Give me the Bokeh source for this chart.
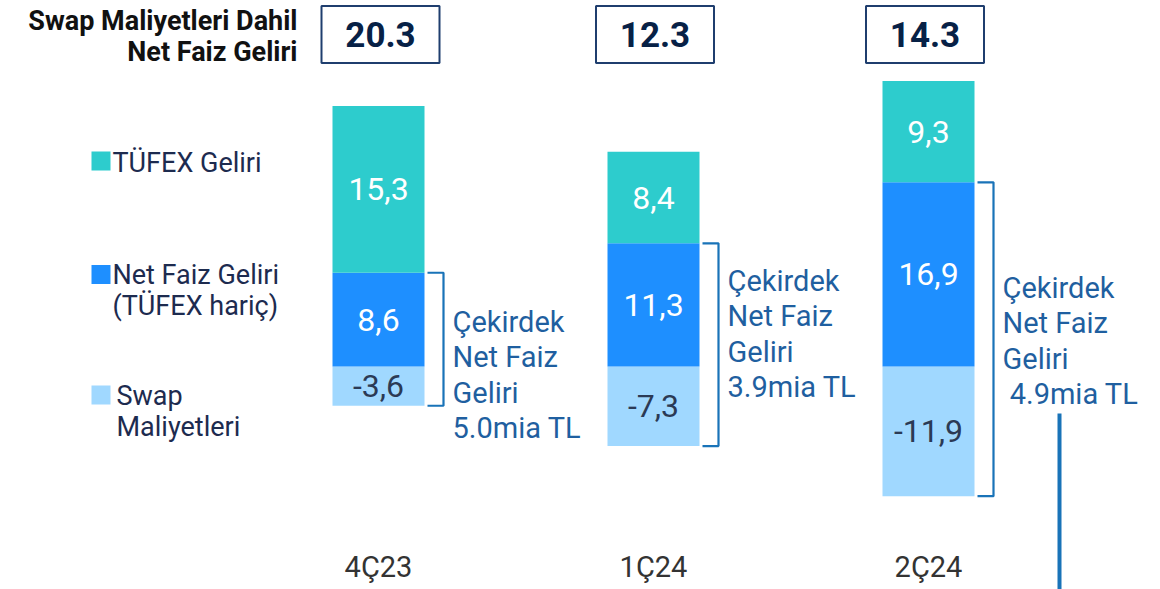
from bokeh.plotting import figure
from bokeh.models import Range1d
from bokeh.core.properties import value
from bokeh.embed import file_html
from bokeh.resources import INLINE

# ---------------- data ----------------
quarters = ["4Ç23", "1Ç24", "2Ç24"]
tufex = [15.3, 8.4, 9.3]
nii_ex_tufex = [8.6, 11.3, 16.9]
swap_costs = [-3.6, -7.3, -11.9]
totals = ["20.3", "12.3", "14.3"]
core_nii = ["5.0mia TL", "3.9mia TL", "\u00a04.9mia TL"]
core_label = ["Çekirdek", "Net Faiz", "Geliri"]
legend_tufex = ["TÜFEX Geliri"]
legend_nii = ["Net Faiz Geliri", "(TÜFEX hariç)"]
legend_swap = ["Swap", "Maliyetleri"]
title_lines = ["Swap Maliyetleri Dahil", "Net Faiz Geliri"]

# ---------------- style ----------------
C_TUFEX = "#2DCCCD"
C_NII = "#1E8FFF"
C_SWAP = "#A0D8FF"
C_BRACKET = "#1973B8"
C_BRTEXT = "#1F5FA0"
C_NAVY = "#072146"
C_LEG = "#1D2B4F"
C_CAT = "#333333"
FONT = value("Roboto")

W, H = 1160, 589
OFF = 0             # page offset of the figure
PXU = 10.9          # pixels per unit
ZERO = 366          # screen y of zero
STEP = 275          # pixels between categories
XC0 = 378           # screen x of first category

ystart = -(H + OFF - ZERO) / PXU
yend = (ZERO - OFF) / PXU
xstart = -(XC0 - OFF) / STEP
xend = xstart + W / STEP


def vy(py):
    return (ZERO - py) / PXU


def vx(px):
    return (px - XC0) / STEP


xs = list(range(len(quarters)))
BW = 92 / STEP

p = figure(width=W, height=H, output_backend="svg", toolbar_location=None,
           x_range=Range1d(xstart, xend), y_range=Range1d(ystart, yend),
           min_border=0)
p.axis.visible = False
p.grid.visible = False
p.outline_line_color = None
p.background_fill_color = "white"

# bars
p.vbar(x=xs, bottom=0, top=swap_costs, width=BW, color=C_SWAP, line_color=None)
p.vbar(x=xs, bottom=0, top=nii_ex_tufex, width=BW, color=C_NII, line_color=None)
p.vbar(x=xs, bottom=nii_ex_tufex,
       top=[n + t for n, t in zip(nii_ex_tufex, tufex)],
       width=BW, color=C_TUFEX, line_color=None)


def tr(v):
    return f"{v:.1f}".replace(".", ",")


LBL = "32px"
# bar labels
p.text(x=xs, y=[n + t / 2 for n, t in zip(nii_ex_tufex, tufex)],
       text=[tr(t) for t in tufex], text_color="white", text_font=FONT,
       text_font_size=LBL, text_align="center", text_baseline="middle")
p.text(x=xs, y=[n / 2 for n in nii_ex_tufex],
       text=[tr(n) for n in nii_ex_tufex], text_color="white", text_font=FONT,
       text_font_size=LBL, text_align="center", text_baseline="middle")
p.text(x=xs, y=[s / 2 for s in swap_costs],
       text=[tr(s) for s in swap_costs], text_color="#2B3A55", text_font=FONT,
       text_font_size=LBL, text_align="center", text_baseline="middle")

# brackets
bxs, bys = [], []
for i, n, s in zip(xs, nii_ex_tufex, swap_costs):
    x0 = i + BW / 2 + 3 / STEP
    x1 = i + BW / 2 + 19 / STEP
    bxs.append([x0, x1, x1, x0])
    bys.append([n, n, s, s])
p.multi_line(xs=bxs, ys=bys, line_color=C_BRACKET, line_width=2.2)

# bracket texts
first_line_px = [321, 280, 287]
LINE_H = 35.5
tx, ty, tt = [], [], []
for i, fl, c in zip(xs, first_line_px, core_nii):
    lines = core_label + [c]
    for k, ln in enumerate(lines):
        tx.append(i + BW / 2 + 28 / STEP)
        ty.append(vy(fl + k * LINE_H))
        tt.append(ln)
p.text(x=tx, y=ty, text=tt, text_color=C_BRTEXT, text_font=FONT,
       text_font_size="29px", text_align="left", text_baseline="middle")

# total boxes (slightly offset from the bar centres, as in the original)
box_dx = [2 / STEP, 1.5 / STEP, -3.5 / STEP]
box_x = [i + d for i, d in zip(xs, box_dx)]
p.rect(x=box_x, y=[vy(34)] * 3, width=118, height=57,
       width_units="screen", height_units="screen",
       fill_color="white", line_color="#1F3E6E", line_width=2)
p.text(x=box_x, y=[vy(34)] * 3, text=totals, text_color=C_NAVY,
       text_font=FONT, text_font_style="bold", text_font_size="35px",
       text_align="center", text_baseline="middle")

# title
p.text(x=[vx(297)] * 2, y=[vy(20), vy(51)], text=title_lines,
       text_color="#111111", text_font=FONT, text_font_style="bold",
       text_font_size="27px", text_align="right", text_baseline="middle")

# legend
p.scatter(x=[vx(100.5)] * 3, y=[vy(160.5), vy(274), vy(394.5)],
          marker="square", size=19,
          fill_color=[C_TUFEX, C_NII, C_SWAP], line_color=None)
leg_x = [vx(112)] + [vx(112)] * 2 + [vx(116)] * 2
leg_y = [vy(162), vy(274), vy(305), vy(395), vy(426)]
p.text(x=leg_x, y=leg_y, text=legend_tufex + legend_nii + legend_swap,
       text_color=C_LEG, text_font=FONT, text_font_size="27px",
       text_align="left", text_baseline="middle")

# category labels
p.text(x=xs, y=[vy(566)] * 3, text=quarters, text_color=C_CAT,
       text_font=FONT, text_font_size="29px",
       text_align="center", text_baseline="middle")

# vertical accent line
p.segment(x0=[vx(1059)], y0=[vy(413)], x1=[vx(1059)], y1=[ystart],
          line_color=C_BRACKET, line_width=4)

open("out.html", "w").write(file_html(p, INLINE))
